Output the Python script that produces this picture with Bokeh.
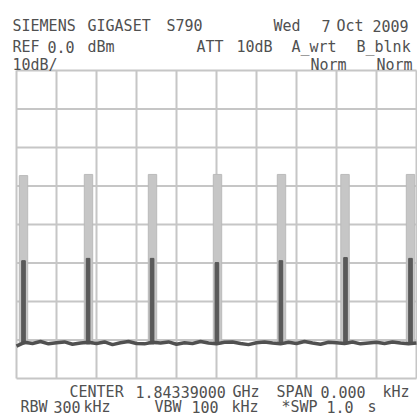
from bokeh.plotting import figure
from bokeh.models import Range1d, ColumnDataSource
from bokeh.embed import file_html
from bokeh.resources import INLINE
from bokeh.core.properties import value

# ---------------- data ----------------
# time axis: 0 .. 1.0 s (SPAN 0, SWP 1.0 s), level axis: 0 .. -80 dBm (10 dB/div)
grid_t_ticks = [0.0, 0.1, 0.2, 0.3, 0.4, 0.5, 0.6, 0.7, 0.8, 0.9, 1.0]
grid_db_ticks = [0, -10, -20, -30, -40, -50, -60, -70, -80]

# trace B (blank, held) bursts
burst_b_t = [0.0175, 0.1800, 0.3400, 0.5025, 0.6625, 0.8213, 0.9850]
burst_b_db = [-27.3, -27.0, -27.0, -27.0, -27.0, -27.0, -27.0]

# trace A (write) bursts
burst_a_t = [0.0175, 0.1790, 0.3390, 0.5010, 0.6610, 0.8225, 0.9850]
burst_a_db = [-49.4, -48.8, -48.8, -49.9, -49.4, -48.6, -48.8]

# trace A noise floor
floor_t = [0.00, 0.02, 0.04, 0.06, 0.08, 0.10, 0.12, 0.14, 0.16, 0.18,
           0.20, 0.22, 0.24, 0.26, 0.28, 0.30, 0.32, 0.34, 0.36, 0.38,
           0.40, 0.42, 0.44, 0.46, 0.48, 0.50, 0.52, 0.54, 0.56, 0.58,
           0.60, 0.62, 0.64, 0.66, 0.68, 0.70, 0.72, 0.74, 0.76, 0.78,
           0.80, 0.82, 0.84, 0.86, 0.88, 0.90, 0.92, 0.94, 0.96, 0.98, 1.00]
floor_db = [-71.6, -70.6, -70.9, -70.4, -71.0, -70.7, -70.5, -71.1, -70.8, -70.6,
            -70.9, -70.5, -71.2, -70.7, -70.4, -70.9, -71.0, -70.6, -70.8, -70.5,
            -71.1, -70.7, -70.9, -70.4, -70.8, -71.0, -70.6, -70.5, -70.9, -71.2,
            -70.7, -70.5, -70.8, -71.0, -70.6, -70.9, -70.4, -70.8, -71.1, -70.6,
            -70.7, -70.9, -70.5, -71.0, -70.8, -70.6, -70.9, -70.5, -70.8, -71.0, -70.8]
floor_ref_db = -71.0

# screen annotation texts
line1_text = ["SIEMENS", "GIGASET", "S790", "Wed", "7", "Oct", "2009"]
line2_text = ["REF", "0.0", "dBm", "ATT", "10dB", "A_wrt", "B_blnk"]
line3_text = ["10dB/", "Norm", "Norm"]
line4_text = ["CENTER", "1.84339000", "GHz", "SPAN", "0.000", "kHz"]
line5_text = ["RBW", "300", "kHz", "VBW", "100", "kHz", "*SWP", "1.0", "s"]

# ---------------- layout (page pixels) ----------------
X0_PAGE, PX_PER_S = 16.0, 400.0
Y0_PAGE, PX_PER_DB = 70.0, 308.0 / 80.0
W = H = 417
PAGE_OFF = 0

line1_x = [12, 87, 166, 273, 321, 336, 372]
line2_x = [12, 47, 87, 196, 236, 291, 356]
line3_x = [12, 310, 376]
line4_x = [69, 135, 232, 276, 320, 382]
line5_x = [20, 53, 83, 154, 191, 231, 281, 326, 367]
line_baselines = [25, 46, 64, 391, 406]


def t_of(px):
    return (px - X0_PAGE) / PX_PER_S


def db_of(py):
    return (Y0_PAGE - py) / PX_PER_DB


x_range = Range1d(t_of(PAGE_OFF), t_of(PAGE_OFF + W))
y_range = Range1d(db_of(PAGE_OFF + H), db_of(PAGE_OFF))

p = figure(width=W, height=H, x_range=x_range, y_range=y_range,
           x_axis_location=None, y_axis_location=None,
           toolbar_location=None, output_backend="svg", min_border=0)
p.outline_line_color = None
p.background_fill_color = "white"
p.border_fill_color = "white"
p.xgrid.visible = False
p.ygrid.visible = False

GRID_COLOR = "#c6c6c6"
t_min, t_max = grid_t_ticks[0], grid_t_ticks[-1]
db_min, db_max = grid_db_ticks[-1], grid_db_ticks[0]
p.segment(x0=grid_t_ticks, x1=grid_t_ticks,
          y0=[db_min] * len(grid_t_ticks), y1=[db_max] * len(grid_t_ticks),
          line_color=GRID_COLOR, line_width=2)
p.segment(x0=[t_min] * len(grid_db_ticks), x1=[t_max] * len(grid_db_ticks),
          y0=grid_db_ticks, y1=grid_db_ticks,
          line_color=GRID_COLOR, line_width=2)

# trace B bursts (light)
p.vbar(x=burst_b_t, top=burst_b_db, bottom=floor_ref_db, width=0.021,
       fill_color="#c6c6c6", line_color="#bababa", line_width=1)
# trace A bursts (dark)
p.vbar(x=burst_a_t, top=burst_a_db, bottom=floor_ref_db, width=0.009,
       fill_color="#5a5a5a", line_color="#555555", line_width=1)
# trace A noise floor
p.line(floor_t, floor_db, line_color="#505050", line_width=3.5)

# texts
texts, xs, ys = [], [], []
for words, xpos, base in zip([line1_text, line2_text, line3_text, line4_text, line5_text],
                             [line1_x, line2_x, line3_x, line4_x, line5_x],
                             line_baselines):
    for w_, xp in zip(words, xpos):
        texts.append(w_)
        xs.append(t_of(xp))
        ys.append(db_of(base))

src = ColumnDataSource(dict(x=xs, y=ys, text=texts))
p.text(x="x", y="y", text="text", source=src,
       text_font=value("DejaVu Sans Mono"), text_font_size="15px",
       text_color="#505050", text_align="left", text_baseline="alphabetic")

open("out.html", "w").write(file_html(p, INLINE))
